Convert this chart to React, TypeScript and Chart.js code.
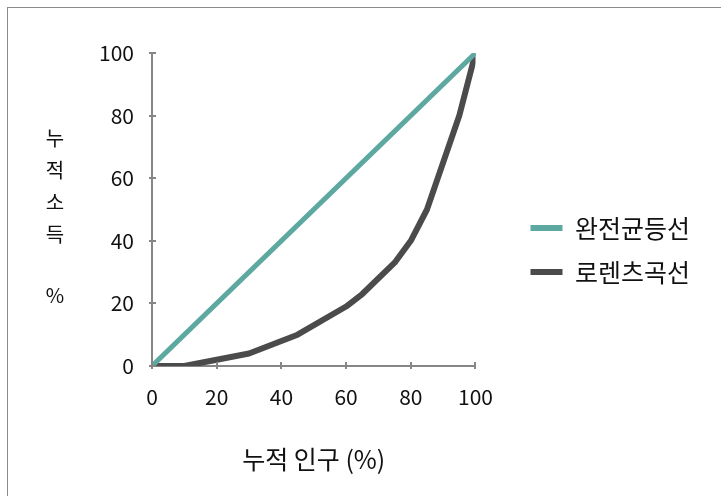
import { useEffect, useRef } from 'react';
import { Chart, registerables } from 'chart.js';

Chart.register(...registerables);

const populationShare = [0, 10, 20, 30, 45, 60, 65, 75, 80, 85, 90, 95, 100];
const incomeShare = [0, 0, 2, 4, 10, 19, 23, 33, 40, 50, 65, 80, 100];
const equalityX = [0, 100];
const equalityY = [0, 100];
const seriesNames = ['완전균등선', '로렌츠곡선'];
const xTitle = '누적 인구 (%)';
const yTitleChars = ['누', '적', '소', '득', '', '%'];
const tickValues = [0, 20, 40, 60, 80, 100];

const FONT = "'Noto Sans CJK KR', 'Noto Sans', sans-serif";
const AXIS_COLOR = '#868686';
const GREEN = '#5da8a0';
const DARK = '#4b4b4b';

const crossTicks = {
  id: 'crossTicks',
  afterDraw(chart: any) {
    const ctx = chart.ctx;
    const xs = chart.scales.x;
    const ys = chart.scales.y;
    ctx.save();
    ctx.strokeStyle = AXIS_COLOR;
    ctx.lineWidth = 2;
    ctx.beginPath();
    const axisY = xs.top;
    tickValues.forEach((v) => {
      const px = Math.round(xs.getPixelForValue(v));
      ctx.moveTo(px, axisY - 4);
      ctx.lineTo(px, axisY + 3);
    });
    const axisX = ys.right;
    tickValues.forEach((v) => {
      const py = Math.round(ys.getPixelForValue(v));
      ctx.moveTo(axisX - 3, py);
      ctx.lineTo(axisX + 4, py);
    });
    ctx.stroke();
    ctx.restore();
  },
};

const stackedYTitle = {
  id: 'stackedYTitle',
  afterDraw(chart: any) {
    const ctx = chart.ctx;
    ctx.save();
    ctx.font = `20px ${FONT}`;
    ctx.fillStyle = '#111';
    ctx.textAlign = 'center';
    ctx.textBaseline = 'middle';
    const step = 32;
    const startY = 138;
    yTitleChars.forEach((c, i) => {
      if (c) ctx.fillText(c, 55, startY + i * step - (i === 5 ? 3 : 0));
    });
    ctx.restore();
  },
};

export default function App() {
  const ref = useRef<HTMLCanvasElement | null>(null);

  useEffect(() => {
    if (!ref.current) return;
    const baseLabels = Chart.defaults.plugins.legend.labels.generateLabels;
    const chart = new Chart(ref.current, {
      type: 'line',
      data: {
        datasets: [
          {
            label: seriesNames[0],
            data: equalityX.map((x, i) => ({ x, y: equalityY[i] })),
            borderColor: GREEN,
            backgroundColor: GREEN,
            borderWidth: 5,
            pointRadius: 0,
            tension: 0,
          },
          {
            label: seriesNames[1],
            data: populationShare.map((x, i) => ({ x, y: incomeShare[i] })),
            borderColor: DARK,
            backgroundColor: DARK,
            borderWidth: 6,
            pointRadius: 0,
            tension: 0,
            borderJoinStyle: 'round',
          },
        ],
      },
      options: {
        responsive: false,
        animation: false,
        devicePixelRatio: 1,
        layout: { padding: { left: 0, top: 4, right: 21, bottom: 0 } },
        plugins: {
          tooltip: { enabled: false },
          legend: {
            display: true,
            position: 'right',
            maxWidth: 320,
            labels: {
              boxWidth: 32,
              boxHeight: 6,
              padding: 19,
              color: '#111',
              font: { family: FONT, size: 25 },
              generateLabels: (c: any) =>
                baseLabels(c).map((l: any) => ({ ...l, lineWidth: 0, fillStyle: l.strokeStyle })),
            },
          },
        },
        scales: {
          x: {
            type: 'linear',
            min: 0,
            max: 100,
            afterFit: (s: any) => {
              s.height = 130;
            },
            afterBuildTicks: (s: any) => {
              s.ticks = tickValues.map((v) => ({ value: v }));
            },
            grid: { display: false, drawTicks: false },
            border: { display: true, color: AXIS_COLOR, width: 2 },
            ticks: {
              padding: 18,
              color: '#111',
              font: { family: FONT, size: 21 },
            },
            title: {
              display: true,
              text: xTitle,
              color: '#111',
              font: { family: FONT, size: 25 },
              padding: { top: 0, bottom: 22 },
            },
          },
          topSpacer: {
            type: 'linear',
            position: 'top',
            display: true,
            afterFit: (s: any) => {
              s.height = 49;
            },
            grid: { display: false, drawTicks: false },
            border: { display: false },
            ticks: { display: false },
          },
          y: {
            type: 'linear',
            min: 0,
            max: 100,
            afterFit: (s: any) => {
              s.width = 152;
            },
            afterBuildTicks: (s: any) => {
              s.ticks = tickValues.map((v) => ({ value: v }));
            },
            grid: { display: false, drawTicks: false },
            border: { display: true, color: AXIS_COLOR, width: 2 },
            ticks: {
              padding: 18,
              color: '#111',
              font: { family: FONT, size: 21 },
            },
          },
          spacer: {
            type: 'linear',
            position: 'right',
            display: true,
            afterFit: (s: any) => {
              s.width = 36;
            },
            grid: { display: false, drawTicks: false },
            border: { display: false },
            ticks: { display: false },
          },
        },
      },
      plugins: [crossTicks, stackedYTitle],
    });
    return () => chart.destroy();
  }, []);

  return (
    <div style={{ position: 'absolute', left: 0, top: 0, width: 721, height: 496, overflow: 'hidden' }}>
      <div
        style={{
          position: 'absolute',
          left: 7,
          top: 7,
          width: 760,
          height: 540,
          border: '1px solid #8a8a8a',
        }}
      />
      <canvas ref={ref} width={721} height={496} style={{ position: 'absolute', left: 0, top: 0 }} />
    </div>
  );
}
